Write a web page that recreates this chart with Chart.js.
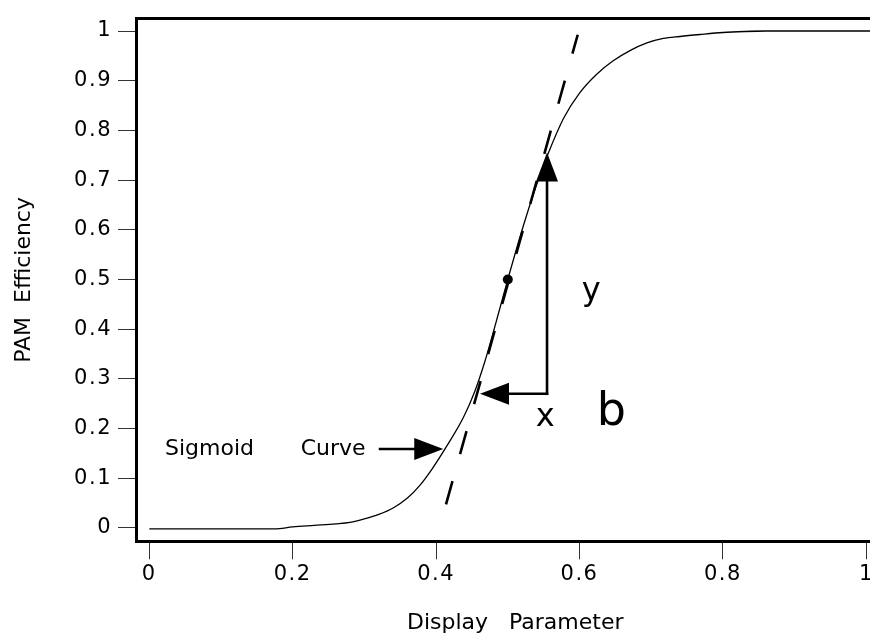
<!DOCTYPE html>
<html>
<head>
<meta charset="utf-8">
<script src="https://cdn.jsdelivr.net/npm/chart.js@4/dist/chart.umd.min.js"></script>
<style>
  html, body { margin: 0; padding: 0; overflow: hidden; background: #fff; }
  canvas { display: block; }
</style>
</head>
<body>
<canvas id="c" width="900" height="638"></canvas>
<script>
// ---------- data ----------
const xTicks = [0, 0.2, 0.4, 0.6, 0.8, 1];
const yTicks = [0, 0.1, 0.2, 0.3, 0.4, 0.5, 0.6, 0.7, 0.8, 0.9, 1];

const curveX = [0, 0.05, 0.10, 0.15, 0.175, 0.20, 0.23, 0.26, 0.28, 0.30, 0.32, 0.34, 0.36, 0.377, 0.395, 0.415, 0.438, 0.454, 0.468, 0.480, 0.500, 0.520, 0.540, 0.557, 0.578, 0.600, 0.624, 0.647, 0.671, 0.694, 0.717, 0.740, 0.768, 0.800, 0.830, 0.860, 0.930, 1.000, 1.010];
const curveY = [-0.002, -0.002, -0.002, -0.002, -0.002, 0.002, 0.005, 0.008, 0.011, 0.018, 0.027, 0.040, 0.060, 0.085, 0.120, 0.165, 0.222, 0.275, 0.335, 0.395, 0.500, 0.600, 0.690, 0.756, 0.825, 0.875, 0.913, 0.940, 0.961, 0.976, 0.985, 0.989, 0.993, 0.997, 0.999, 1.000, 1.000, 1.000, 1.000];

const tangentX = [0.4138, 0.5975];
const tangentY = [0.0475, 0.9925];

const midX = [0.5];
const midY = [0.5];

// arrows: from -> to (tip), in data units
const arrowFromX = [0.5547, 0.5547, 0.3218];
const arrowFromY = [0.270, 0.270, 0.1587];
const arrowToX   = [0.5547, 0.4612, 0.4100];
const arrowToY   = [0.7556, 0.270, 0.1587];

// text annotations (left, baseline) in data units
const noteText = ['Sigmoid', 'Curve', 'y', 'x', 'b'];
const noteX = [0.0233, 0.2125, 0.6045, 0.5403, 0.6254];
const noteY = [0.1457, 0.1457, 0.4577, 0.2046, 0.2077];

const xTitle = 'Display   Parameter';
const yTitle = 'PAM  Efficiency';

// ---------- styles ----------
const FONT = 'DejaVu Sans';
const noteFontSize = [22, 22, 32, 32, 46];

const zip = (xs, ys) => xs.map((x, i) => ({ x: x, y: ys[i] }));

const annotationPlugin = {
  id: 'annotations',
  afterDatasetsDraw(chart) {
    const ctx = chart.ctx;
    const sx = chart.scales.x, sy = chart.scales.y;
    ctx.save();
    ctx.strokeStyle = '#000';
    ctx.fillStyle = '#000';
    ctx.lineWidth = 2.6;
    ctx.lineCap = 'butt';
    for (let i = 0; i < arrowFromX.length; i++) {
      const x0 = sx.getPixelForValue(arrowFromX[i]);
      const y0 = sy.getPixelForValue(arrowFromY[i]);
      const x1 = sx.getPixelForValue(arrowToX[i]);
      const y1 = sy.getPixelForValue(arrowToY[i]);
      const len = Math.hypot(x1 - x0, y1 - y0);
      const ux = (x1 - x0) / len, uy = (y1 - y0) / len;
      const headLen = 29, headW = 22;
      const bx = x1 - ux * headLen, by = y1 - uy * headLen;
      ctx.beginPath();
      ctx.moveTo(x0 - ux * 1.3, y0 - uy * 1.3);
      ctx.lineTo(bx + ux * 2, by + uy * 2);
      ctx.stroke();
      ctx.beginPath();
      ctx.moveTo(x1, y1);
      ctx.lineTo(bx - uy * headW / 2, by + ux * headW / 2);
      ctx.lineTo(bx + uy * headW / 2, by - ux * headW / 2);
      ctx.closePath();
      ctx.fill();
    }
    ctx.textAlign = 'left';
    ctx.textBaseline = 'alphabetic';
    for (let i = 0; i < noteText.length; i++) {
      ctx.font = noteFontSize[i] + 'px "' + FONT + '"';
      ctx.fillText(noteText[i], sx.getPixelForValue(noteX[i]) - 1, sy.getPixelForValue(noteY[i]));
    }
    ctx.restore();
  }
};

const tickSpacingPlugin = {
  id: 'tickSpacing',
  beforeDraw(chart) {
    ['x', 'y'].forEach(id => {
      const s = chart.scales[id];
      if (s && !s._spacedLabels) {
        const orig = s.drawLabels;
        s.drawLabels = function (area) {
          const c = this.ctx;
          c.save();
          c.letterSpacing = '1.5px';
          orig.call(this, area);
          c.restore();
        };
        s._spacedLabels = true;
      }
    });
  }
};

const X_MIN = -0.01785, X_MAX = 1.0386;
const Y_MIN = -0.027, Y_MAX = 1.025;

new Chart(document.getElementById('c'), {
  type: 'scatter',
  data: {
    datasets: [
      {
        data: zip(curveX, curveY),
        showLine: true,
        borderColor: '#000',
        borderWidth: 1.3,
        pointRadius: 0,
        cubicInterpolationMode: 'monotone',
        fill: false
      },
      {
        data: zip(tangentX, tangentY),
        showLine: true,
        borderColor: '#000',
        borderWidth: 2.6,
        borderDash: [24, 28],
        pointRadius: 0,
        fill: false
      },
      {
        data: zip(midX, midY),
        showLine: false,
        pointRadius: 5,
        pointBackgroundColor: '#000',
        pointBorderColor: '#000',
        pointBorderWidth: 0
      }
    ]
  },
  options: {
    responsive: false,
    animation: false,
    devicePixelRatio: 1,
    layout: { padding: { left: 0, right: 6, top: 0, bottom: 0 } },
    plugins: { legend: { display: false }, tooltip: { enabled: false } },
    scales: {
      x: {
        type: 'linear',
        position: 'bottom',
        min: X_MIN,
        max: X_MAX,
        afterBuildTicks: s => { s.ticks = xTicks.map(v => ({ value: v })); },
        afterFit: s => { s.height = 96.7; },
        ticks: {
          callback: v => String(v),
          color: '#000',
          font: { family: FONT, size: 21 },
          padding: 3,
          maxRotation: 0,
          autoSkip: false
        },
        grid: { drawOnChartArea: false, drawTicks: true, tickLength: 18, tickColor: '#333', tickWidth: 1 },
        border: { display: true, color: '#000', width: 3 },
        title: { display: true, text: xTitle, color: '#000', font: { family: FONT, size: 22 }, padding: { top: 0, bottom: 2 } }
      },
      x2: {
        type: 'linear',
        position: 'top',
        min: X_MIN,
        max: X_MAX,
        afterFit: s => { s.height = 5.5; },
        ticks: { display: false },
        grid: { drawOnChartArea: false, drawTicks: false },
        border: { display: true, color: '#000', width: 3 }
      },
      y: {
        type: 'linear',
        position: 'left',
        min: Y_MIN,
        max: Y_MAX,
        afterBuildTicks: s => { s.ticks = yTicks.map(v => ({ value: v })); },
        afterFit: s => { s.width = 136.5; },
        ticks: {
          callback: v => String(v),
          color: '#000',
          font: { family: FONT, size: 21 },
          padding: 6,
          autoSkip: false
        },
        grid: { drawOnChartArea: false, drawTicks: true, tickLength: 18.5, tickColor: '#333', tickWidth: 1 },
        border: { display: true, color: '#000', width: 3 },
        title: { display: true, text: yTitle, color: '#000', font: { family: FONT, size: 22 }, padding: { top: 11, bottom: 0 } }
      }
    }
  },
  plugins: [tickSpacingPlugin, annotationPlugin]
});
</script>
</body>
</html>
